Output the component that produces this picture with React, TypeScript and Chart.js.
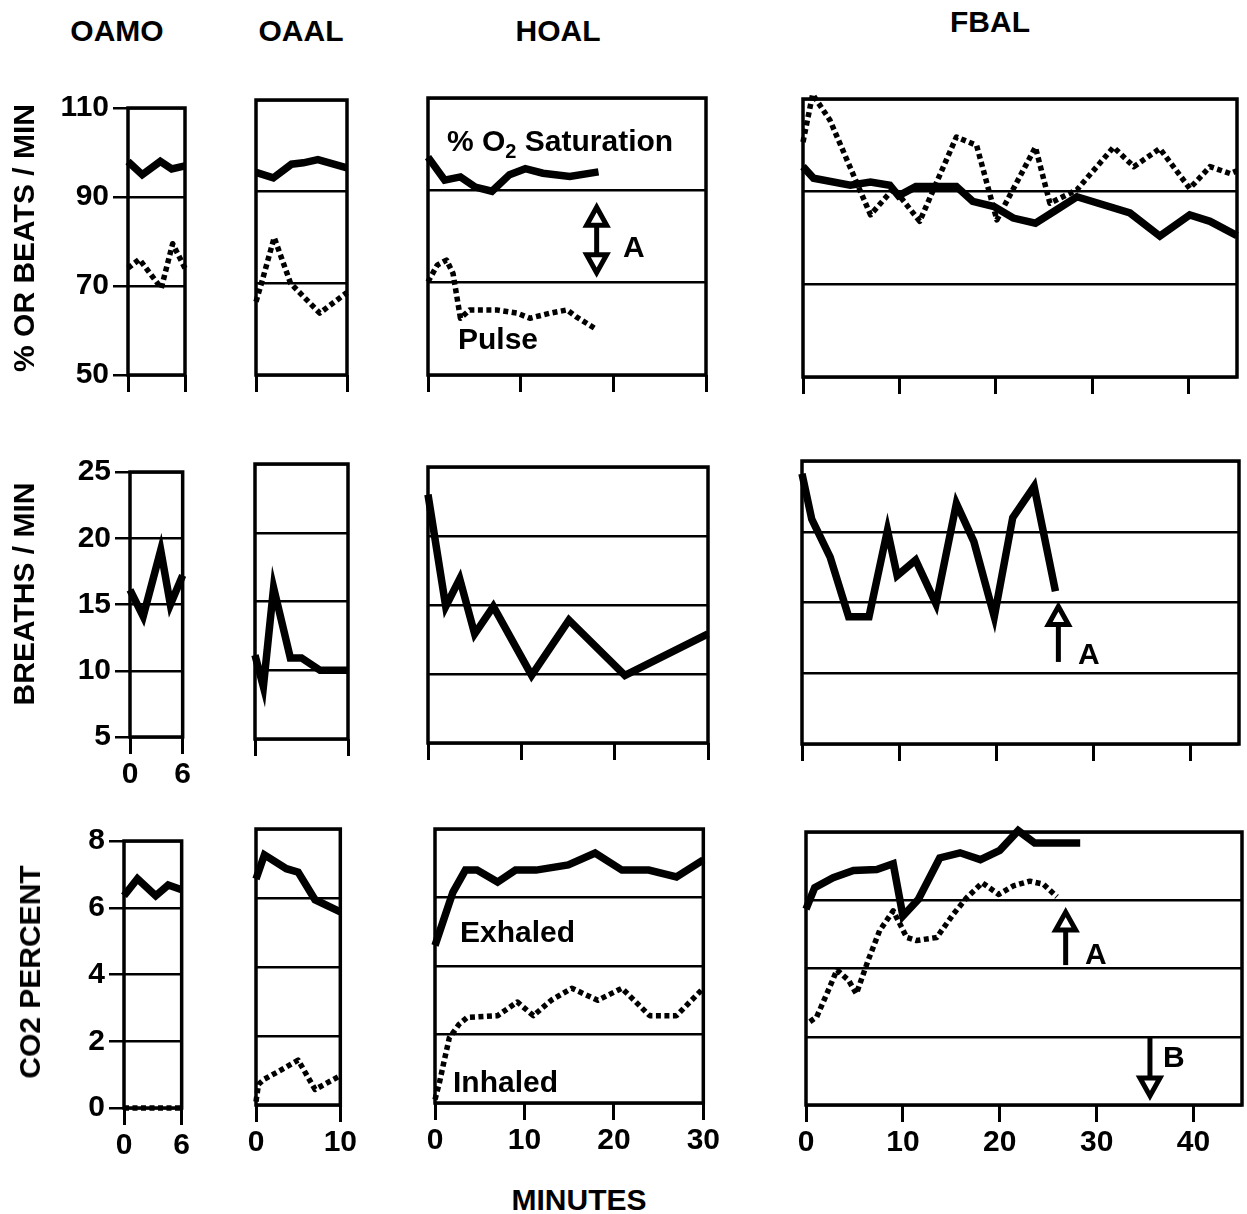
import React, { useEffect, useRef } from "react";
import { Chart, registerables } from "chart.js";

Chart.register(...registerables);

const FONT = "'Liberation Sans', Arial, Helvetica, sans-serif";

// ---------- text ----------
const columnTitles = ["OAMO", "OAAL", "HOAL", "FBAL"];
const rowTitles = ["% OR BEATS / MIN", "BREATHS / MIN", "CO2 PERCENT"];
const xAxisTitle = "MINUTES";

// ---------- tick values ----------
const o2Ticks = [50, 70, 90, 110];
const breathTicks = [5, 10, 15, 20, 25];
const co2Ticks = [0, 2, 4, 6, 8];
const oamoMinutes = [0, 6];
const oaalMinutes = [0, 10];
const hoalMinutes = [0, 10, 20, 30];
const fbalMinutes = [0, 10, 20, 30, 40];

// ---------- row 1: % O2 saturation (solid) and pulse (dotted) ----------
const oamoSatX = [0, 1.5, 3.4, 4.6, 6];
const oamoSatY = [98, 95, 98, 96.3, 97];
const oamoPulseX = [0, 1.2, 3.5, 4.7, 6];
const oamoPulseY = [74, 76, 69.5, 79.5, 74];

const oaalSatX = [0, 1.9, 3.9, 5.2, 6.8, 10];
const oaalSatY = [94.2, 93, 96, 96.3, 97, 95.2];
const oaalPulseX = [0, 0.6, 2, 3.8, 7, 10];
const oaalPulseY = [66, 70, 80, 70, 63.5, 68];

const hoalSatX = [0, 1.8, 3.5, 5.1, 6.9, 8.8, 10.5, 12.4, 15.3, 18.4];
const hoalSatY = [97.2, 92.2, 92.9, 90.7, 89.8, 93.4, 94.7, 93.7, 93, 94];
const hoalPulseX = [0, 1, 2, 2.7, 3.5, 4.5, 7.4, 9.6, 11, 13.2, 15, 16, 18];
const hoalPulseY = [70.2, 73.8, 74.9, 72, 62.3, 64.1, 64.1, 63.4, 62.3, 63.4, 64.1, 62.6, 60.1];

const fbalSatX = [0, 1.1, 4.9, 7, 9, 9.9, 11.7, 15.9, 17.6, 19.8, 21.8, 24.1, 26.3, 28.4, 33.9, 37, 40.1, 42.2, 45];
const fbalSatY = [95.4, 92.9, 91.4, 92.1, 91.4, 89.1, 91.1, 91.1, 87.9, 86.8, 84.3, 83.2, 86.1, 88.9, 85.4, 80.4, 85, 83.6, 80.5];
const fbalPulseX = [0, 1, 2.8, 7, 9.4, 12.1, 15.9, 18, 20.1, 24.1, 25.6, 28.4, 32.2, 34.3, 37, 40.1, 42.2, 44.3, 45];
const fbalPulseY = [100.7, 111, 105.4, 85, 90.7, 83.6, 101.8, 100, 83.9, 99.6, 87.5, 90.4, 99.6, 95.4, 99.3, 90.7, 95.4, 93.9, 94.5];

// ---------- row 2: breaths / min ----------
const oamoBreathX = [0, 1.5, 3.5, 4.6, 6];
const oamoBreathY = [16.1, 14.1, 19.1, 15, 17.2];
const oaalBreathX = [0, 0.9, 2, 3.8, 5, 7, 10];
const oaalBreathY = [11.1, 8.8, 16, 10.9, 10.9, 10, 10];
const hoalBreathX = [0, 1.9, 3.4, 5, 7, 11.1, 15.1, 21.1, 30];
const hoalBreathY = [23, 14.9, 16.9, 12.9, 14.9, 9.9, 13.9, 9.9, 12.9];
const fbalBreathX = [0, 1, 2.9, 4.8, 6.9, 8.8, 9.8, 11.7, 13.8, 15.9, 17.7, 19.8, 21.7, 23.9, 26.1];
const fbalBreathY = [24.1, 20.9, 18.2, 14, 14, 20.1, 16.9, 18, 14.9, 22, 19.3, 14, 21, 23.2, 15.8];

// ---------- row 3: CO2 percent, exhaled (solid) and inhaled (dotted) ----------
const oamoExhX = [0, 1.4, 3.3, 4.6, 6];
const oamoExhY = [6.36, 6.87, 6.36, 6.68, 6.54];
const oamoInhX = [0, 1.4, 3.3, 4.6, 6];
const oamoInhY = [0, 0, 0, 0, 0];

const oaalExhX = [0, 1, 3.6, 5, 7, 10];
const oaalExhY = [6.55, 7.25, 6.85, 6.75, 5.95, 5.6];
const oaalInhX = [0, 0.3, 1, 2.5, 5, 7, 10];
const oaalInhY = [0.1, 0.6, 0.75, 0.95, 1.3, 0.45, 0.85];

const hoalExhX = [0, 2, 3.4, 4.7, 7, 9, 11.3, 14.9, 17.9, 20.9, 23.9, 27, 30];
const hoalExhY = [4.6, 6.15, 6.8, 6.8, 6.45, 6.8, 6.8, 6.95, 7.3, 6.8, 6.8, 6.6, 7.1];
const hoalInhX = [0, 0.5, 1, 1.6, 2.7, 3.6, 7, 9.2, 11, 13, 15.3, 18.2, 20.9, 24, 27, 30];
const hoalInhY = [0.1, 0.6, 1.2, 1.9, 2.3, 2.5, 2.55, 2.95, 2.55, 3.0, 3.35, 3.0, 3.35, 2.55, 2.55, 3.35];

const fbalExhX = [0, 0.9, 2.8, 4.9, 7.3, 9, 10, 11.6, 13.8, 15.9, 18, 20, 21.9, 23.6, 28.3];
const fbalExhY = [5.74, 6.37, 6.66, 6.87, 6.9, 7.07, 5.54, 6.03, 7.24, 7.39, 7.19, 7.46, 8.04, 7.68, 7.68];
const fbalInhX = [0.4, 1.1, 2, 3.2, 4.4, 5.2, 6.4, 7.6, 9, 10.4, 11.4, 13.5, 15.2, 16.6, 18.2, 19.9, 21.4, 23.1, 24.5, 25.9];
const fbalInhY = [2.44, 2.58, 3.16, 3.96, 3.65, 3.26, 4.23, 5.11, 5.69, 4.91, 4.82, 4.91, 5.59, 6.08, 6.51, 6.17, 6.42, 6.56, 6.47, 6.1];

// ---------- panel layout ----------
type Series = { x: number[]; y: number[]; dotted?: boolean };
type Arrow = { x: number; y1: number; y2: number; head1: boolean; head2: boolean };
type PanelDef = {
  rect: { l: number; t: number; r: number; b: number };
  xMax: number;
  xTicks: number[];
  yMin: number;
  yMax: number;
  yTicks: number[];
  showX: boolean;
  showY: boolean;
  series: Series[];
  arrows?: Arrow[];
};

const panels: PanelDef[] = [
  // row 1
  { rect: { l: 128, t: 100, r: 185, b: 375 }, xMax: 6, xTicks: oamoMinutes, yMin: 50, yMax: 110, yTicks: o2Ticks, showX: false, showY: true,
    series: [{ x: oamoSatX, y: oamoSatY }, { x: oamoPulseX, y: oamoPulseY, dotted: true }] },
  { rect: { l: 256, t: 100, r: 347, b: 375 }, xMax: 10, xTicks: oaalMinutes, yMin: 50, yMax: 110, yTicks: o2Ticks, showX: false, showY: false,
    series: [{ x: oaalSatX, y: oaalSatY }, { x: oaalPulseX, y: oaalPulseY, dotted: true }] },
  { rect: { l: 428, t: 98, r: 706, b: 375 }, xMax: 30, xTicks: hoalMinutes, yMin: 50, yMax: 110, yTicks: o2Ticks, showX: false, showY: false,
    series: [{ x: hoalSatX, y: hoalSatY }, { x: hoalPulseX, y: hoalPulseY, dotted: true }],
    arrows: [{ x: 18.2, y1: 87.2, y2: 71.3, head1: true, head2: true }] },
  { rect: { l: 803, t: 99, r: 1237, b: 377 }, xMax: 45, xTicks: fbalMinutes, yMin: 50, yMax: 110, yTicks: o2Ticks, showX: false, showY: false,
    series: [{ x: fbalSatX, y: fbalSatY }, { x: fbalPulseX, y: fbalPulseY, dotted: true }] },
  // row 2
  { rect: { l: 130, t: 464, r: 184, b: 737 }, xMax: 6, xTicks: oamoMinutes, yMin: 5, yMax: 25, yTicks: breathTicks, showX: true, showY: true,
    series: [{ x: oamoBreathX, y: oamoBreathY }] },
  { rect: { l: 255, t: 464, r: 348, b: 739 }, xMax: 10, xTicks: oaalMinutes, yMin: 5, yMax: 25, yTicks: breathTicks, showX: false, showY: false,
    series: [{ x: oaalBreathX, y: oaalBreathY }] },
  { rect: { l: 428, t: 467, r: 708, b: 743 }, xMax: 30, xTicks: hoalMinutes, yMin: 5, yMax: 25, yTicks: breathTicks, showX: false, showY: false,
    series: [{ x: hoalBreathX, y: hoalBreathY }] },
  { rect: { l: 802, t: 461, r: 1239, b: 744 }, xMax: 45, xTicks: fbalMinutes, yMin: 5, yMax: 25, yTicks: breathTicks, showX: false, showY: false,
    series: [{ x: fbalBreathX, y: fbalBreathY }],
    arrows: [{ x: 26.4, y1: 15.0, y2: 10.8, head1: true, head2: false }] },
  // row 3
  { rect: { l: 124, t: 833, r: 183, b: 1108 }, xMax: 6, xTicks: oamoMinutes, yMin: 0, yMax: 8, yTicks: co2Ticks, showX: true, showY: true,
    series: [{ x: oamoExhX, y: oamoExhY }, { x: oamoInhX, y: oamoInhY, dotted: true }] },
  { rect: { l: 256, t: 829, r: 350, b: 1105 }, xMax: 10, xTicks: oaalMinutes, yMin: 0, yMax: 8, yTicks: co2Ticks, showX: true, showY: false,
    series: [{ x: oaalExhX, y: oaalExhY }, { x: oaalInhX, y: oaalInhY, dotted: true }] },
  { rect: { l: 435, t: 829, r: 713, b: 1103 }, xMax: 30, xTicks: hoalMinutes, yMin: 0, yMax: 8, yTicks: co2Ticks, showX: true, showY: false,
    series: [{ x: hoalExhX, y: hoalExhY }, { x: hoalInhX, y: hoalInhY, dotted: true }] },
  { rect: { l: 806, t: 832, r: 1242, b: 1105 }, xMax: 45, xTicks: fbalMinutes, yMin: 0, yMax: 8, yTicks: co2Ticks, showX: true, showY: false,
    series: [{ x: fbalExhX, y: fbalExhY }, { x: fbalInhX, y: fbalInhY, dotted: true }],
    arrows: [
      { x: 26.8, y1: 5.77, y2: 4.1, head1: true, head2: false },
      { x: 35.5, y1: 0.15, y2: 2.0, head1: true, head2: false },
    ] },
];

const YW = 100; // room for y tick labels
const XH = 70; // room for x ticks and labels
const PT = 14;
const PR = 10;

function drawArrows(chart: any, arrows: Arrow[]) {
  const { ctx, scales } = chart;
  const xs = scales.x;
  const ys = scales.y;
  ctx.save();
  ctx.strokeStyle = "#000";
  ctx.fillStyle = "#fff";
  ctx.lineJoin = "miter";
  arrows.forEach((a) => {
    const px = xs.getPixelForValue(a.x);
    const p1 = ys.getPixelForValue(a.y1);
    const p2 = ys.getPixelForValue(a.y2);
    const dir = Math.sign(p2 - p1) || 1;
    const L = 24;
    const s1 = a.head1 ? p1 + dir * (L - 2) : p1;
    const s2 = a.head2 ? p2 - dir * (L - 2) : p2;
    ctx.lineWidth = 5;
    ctx.beginPath();
    ctx.moveTo(px, s1);
    ctx.lineTo(px, s2);
    ctx.stroke();
    const head = (tip: number, d: number) => {
      ctx.beginPath();
      ctx.moveTo(px, tip + d * 4);
      ctx.lineTo(px - 10, tip + d * (L - 2));
      ctx.lineTo(px + 10, tip + d * (L - 2));
      ctx.closePath();
      ctx.fill();
      ctx.lineWidth = 5;
      ctx.stroke();
    };
    if (a.head1) head(p1, dir);
    if (a.head2) head(p2, -dir);
  });
  ctx.restore();
}

function Panel({ p }: { p: PanelDef }) {
  const ref = useRef<HTMLCanvasElement>(null);
  const w = YW + (p.rect.r - p.rect.l) + PR;
  const h = PT + (p.rect.b - p.rect.t) + XH;
  useEffect(() => {
    if (!ref.current) return;
    const tickFont = { family: FONT, size: 30, weight: "bold" as const };
    const chart = new Chart(ref.current, {
      type: "line",
      data: {
        datasets: p.series.map((s) => ({
          data: s.x.map((v, i) => ({ x: v, y: s.y[i] })),
          borderColor: "#000",
          backgroundColor: "#000",
          borderWidth: s.dotted ? 5.5 : 7.5,
          borderDash: s.dotted ? [5, 3.5] : [],
          borderCapStyle: "butt" as const,
          borderJoinStyle: s.dotted ? ("round" as const) : ("miter" as const),
          pointRadius: 0,
          tension: 0,
          fill: false,
          clip: false as any,
        })),
      },
      options: {
        animation: false,
        responsive: false,
        devicePixelRatio: 1,
        layout: { padding: { top: PT, right: PR, left: 0, bottom: 0 } },
        plugins: { legend: { display: false }, tooltip: { enabled: false } },
        events: [],
        scales: {
          x: {
            type: "linear",
            min: 0,
            max: p.xMax,
            afterBuildTicks: (ax: any) => {
              ax.ticks = p.xTicks.map((v) => ({ value: v }));
            },
            afterFit: (ax: any) => {
              ax.height = XH;
            },
            grid: {
              drawOnChartArea: false,
              drawTicks: true,
              tickLength: 17,
              tickWidth: 3,
              tickColor: "#000",
              color: "#000",
              lineWidth: 3,
            },
            border: { display: false },
            ticks: {
              display: p.showX,
              color: "#000",
              font: tickFont,
              padding: 3,
              maxRotation: 0,
              autoSkip: false,
            },
          },
          y: {
            type: "linear",
            min: p.yMin,
            max: p.yMax,
            afterBuildTicks: (ax: any) => {
              ax.ticks = p.yTicks.map((v) => ({ value: v }));
            },
            afterFit: (ax: any) => {
              ax.width = YW;
            },
            grid: {
              drawOnChartArea: true,
              drawTicks: p.showY,
              tickLength: 15,
              tickWidth: 2.5,
              tickColor: "#000",
              color: "#000",
              lineWidth: 2.5,
            },
            border: { display: false },
            ticks: {
              display: p.showY,
              color: "#000",
              font: tickFont,
              padding: 4,
              autoSkip: false,
            },
          },
        },
      },
      plugins: [
        {
          id: "frame",
          beforeDatasetsDraw(c: any) {
            const { ctx, chartArea: a } = c;
            ctx.save();
            ctx.strokeStyle = "#000";
            ctx.lineWidth = 3.5;
            ctx.strokeRect(a.left, a.top, a.right - a.left, a.bottom - a.top);
            ctx.restore();
          },
          afterDatasetsDraw(c: any) {
            if (p.arrows) drawArrows(c, p.arrows);
          },
        },
      ],
    } as any);
    return () => chart.destroy();
  }, [p]);
  return (
    <canvas
      ref={ref}
      width={w}
      height={h}
      style={{ position: "absolute", left: p.rect.l - YW, top: p.rect.t - PT, width: w, height: h }}
    />
  );
}

function Label({ x, cy, children, center }: { x: number; cy: number; children: any; center?: boolean }) {
  return (
    <div
      style={{
        position: "absolute",
        left: x,
        top: cy - 15,
        fontSize: 30,
        lineHeight: "30px",
        fontWeight: 700,
        whiteSpace: "nowrap",
        transform: center ? "translateX(-50%)" : undefined,
      }}
    >
      {children}
    </div>
  );
}

function VLabel({ cx, cy, children }: { cx: number; cy: number; children: any }) {
  return (
    <div
      style={{
        position: "absolute",
        left: cx,
        top: cy,
        fontSize: 30,
        lineHeight: "30px",
        fontWeight: 700,
        whiteSpace: "nowrap",
        transform: "translate(-50%, -50%) rotate(-90deg)",
      }}
    >
      {children}
    </div>
  );
}

export default function App() {
  const colX = [117, 301, 558, 990];
  const colY = [31, 31, 31, 22];
  const rowCx = [24, 24, 30];
  const rowCy = [238, 594, 972];
  return (
    <div
      style={{
        position: "absolute",
        left: 0,
        top: 0,
        width: 1247,
        height: 1214,
        background: "#fff",
        overflow: "hidden",
        fontFamily: FONT,
        color: "#000",
      }}
    >
      {panels.map((p, i) => (
        <Panel key={i} p={p} />
      ))}
      {columnTitles.map((t, i) => (
        <Label key={t} x={colX[i]} cy={colY[i]} center>
          {t}
        </Label>
      ))}
      {rowTitles.map((t, i) => (
        <VLabel key={t} cx={rowCx[i]} cy={rowCy[i]}>
          {t}
        </VLabel>
      ))}
      <Label x={579} cy={1200} center>
        {xAxisTitle}
      </Label>
      <Label x={447} cy={141}>
        % O<span style={{ fontSize: 20, position: "relative", top: 7 }}>2</span> Saturation
      </Label>
      <Label x={458} cy={339}>Pulse</Label>
      <Label x={623} cy={247}>A</Label>
      <Label x={460} cy={932}>Exhaled</Label>
      <Label x={453} cy={1082}>Inhaled</Label>
      <Label x={1078} cy={654}>A</Label>
      <Label x={1085} cy={954}>A</Label>
      <Label x={1163} cy={1057}>B</Label>
    </div>
  );
}
